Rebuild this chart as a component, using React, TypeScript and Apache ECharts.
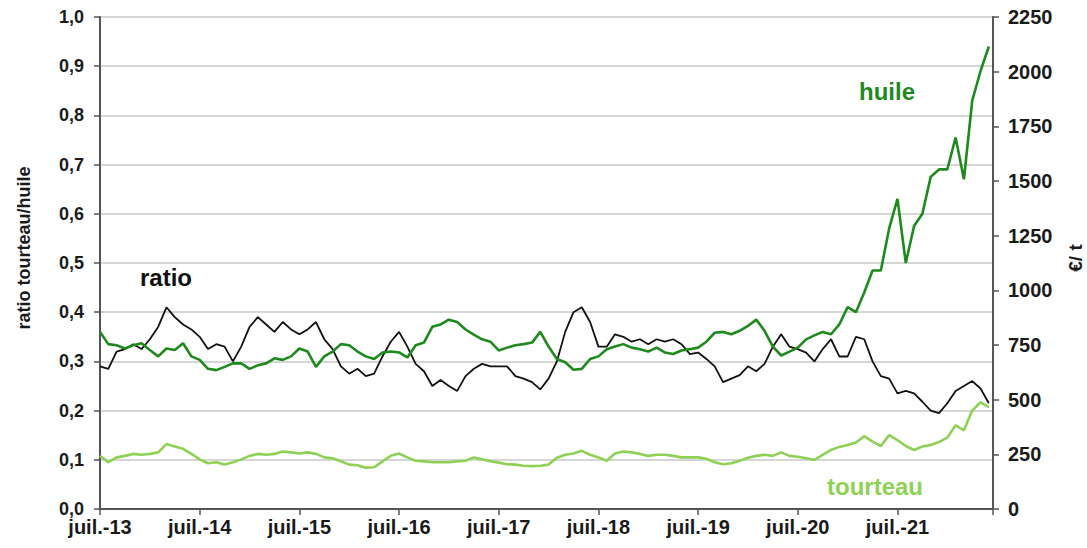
import React, { useEffect, useRef } from "react";
import * as echarts from "echarts";

// Months since July 2013 (monthly observations)
const startYear = 13;
const yearTicks = ["juil.-13", "juil.-14", "juil.-15", "juil.-16", "juil.-17", "juil.-18", "juil.-19", "juil.-20", "juil.-21"];

// ratio tourteau/huile (left axis)
const ratio = [
  0.29, 0.285, 0.32, 0.325, 0.335, 0.325, 0.345, 0.37, 0.41, 0.39, 0.375, 0.365,
  0.35, 0.325, 0.335, 0.33, 0.30, 0.33, 0.37, 0.39, 0.375, 0.36, 0.38, 0.365,
  0.355, 0.365, 0.38, 0.345, 0.325, 0.29, 0.275, 0.285, 0.27, 0.275, 0.31, 0.34,
  0.36, 0.33, 0.295, 0.28, 0.25, 0.262, 0.25, 0.24, 0.27, 0.285, 0.295, 0.29,
  0.29, 0.29, 0.27, 0.265, 0.258, 0.243, 0.265, 0.30, 0.36, 0.40, 0.41, 0.38,
  0.33, 0.33, 0.355, 0.35, 0.34, 0.345, 0.335, 0.345, 0.34, 0.345, 0.335, 0.315,
  0.318, 0.305, 0.29, 0.258, 0.265, 0.272, 0.29, 0.28, 0.295, 0.33, 0.355, 0.33,
  0.325, 0.318, 0.30, 0.325, 0.345, 0.31, 0.31, 0.35, 0.345, 0.30, 0.27, 0.265,
  0.235, 0.24, 0.235, 0.218, 0.2, 0.195, 0.215, 0.24, 0.25, 0.26, 0.245, 0.215,
];

// huile, €/t (right axis)
const huile = [
  810, 754, 749, 734, 749, 758, 727, 698, 734, 727, 758, 698,
  682, 641, 635, 650, 666, 666, 641, 657, 666, 689, 682, 698,
  734, 720, 650, 698, 720, 754, 749, 720, 698, 686, 716, 720,
  716, 693, 749, 761, 833, 844, 866, 855, 821, 797, 776, 765,
  725, 738, 749, 754, 761, 810, 743, 686, 671, 637, 641, 686,
  698, 731, 743, 754, 738, 731, 720, 738, 716, 709, 725, 731,
  738, 765, 806, 810, 799, 815, 837, 866, 815, 743, 702, 720,
  738, 776, 794, 810, 799, 844, 923, 900, 990, 1091, 1091, 1283,
  1418, 1125, 1294, 1350, 1519, 1553, 1553, 1699, 1508, 1868, 2003, 2115,
];

// tourteau, €/t (right axis)
const tourteau = [
  243, 214, 236, 243, 252, 248, 252, 259, 297, 286, 275, 252,
  227, 209, 214, 203, 214, 227, 243, 252, 248, 252, 263, 259,
  254, 259, 252, 236, 232, 218, 203, 200, 189, 191, 218, 243,
  254, 236, 221, 218, 214, 214, 214, 218, 221, 236, 227, 218,
  212, 205, 203, 198, 196, 198, 203, 234, 248, 254, 266, 248,
  236, 221, 254, 263, 259, 252, 243, 248, 248, 243, 236, 236,
  236, 230, 214, 205, 209, 221, 234, 243, 248, 243, 259, 243,
  239, 232, 225, 248, 270, 284, 293, 304, 333, 308, 288, 338,
  315, 288, 270, 286, 293, 306, 326, 383, 360, 450, 488, 466,
];

const FONT = "'Liberation Sans', Arial, sans-serif";

export default function App() {
  const ref = useRef<HTMLDivElement>(null);

  useEffect(() => {
    if (!ref.current) return;
    const chart = echarts.init(ref.current, undefined, { renderer: "svg" });
    const pairs = (arr: number[]) => arr.map((v, i) => [i, v]);

    chart.setOption({
      animation: false,
      backgroundColor: "#ffffff",
      textStyle: { fontFamily: FONT },
      grid: { left: 100, right: 94, top: 17, bottom: 39, containLabel: false },
      xAxis: {
        type: "value",
        min: 0,
        max: 107.5,
        interval: 12,
        axisLine: { show: true, lineStyle: { color: "#555", width: 2 } },
        axisTick: { show: true, length: 6, lineStyle: { color: "#555", width: 1.5 } },
        splitLine: { show: false },
        axisLabel: {
          margin: 8,
          color: "#1a1a1a",
          fontWeight: "bold",
          fontSize: 20,
          fontFamily: FONT,
          formatter: (v: number) => {
            if (v % 12 !== 0) return "";
            const k = v / 12;
            return yearTicks[k] ?? "juil.-" + (startYear + k);
          },
        },
      },
      yAxis: [
        {
          type: "value",
          min: 0,
          max: 1,
          interval: 0.1,
          position: "left",
          axisLine: { show: true, lineStyle: { color: "#555", width: 2 } },
          axisTick: { show: true, length: 6, lineStyle: { color: "#555", width: 1.5 } },
          splitLine: { show: true, lineStyle: { color: "#c8c8c8", width: 1.5 } },
          axisLabel: {
            margin: 16,
            color: "#1a1a1a",
            fontWeight: "bold",
            fontSize: 18,
            fontFamily: FONT,
            formatter: (v: number) => v.toFixed(1).replace(".", ","),
          },
        },
        {
          type: "value",
          min: 0,
          max: 2250,
          interval: 250,
          position: "right",
          axisLine: { show: true, lineStyle: { color: "#555", width: 2 } },
          axisTick: { show: true, length: 6, lineStyle: { color: "#555", width: 1.5 } },
          splitLine: { show: false },
          axisLabel: {
            margin: 15,
            color: "#1a1a1a",
            fontWeight: "bold",
            fontSize: 20,
            fontFamily: FONT,
            formatter: (v: number) => String(Math.round(v)),
          },
        },
      ],
      series: [
        {
          name: "ratio",
          type: "line",
          yAxisIndex: 0,
          data: pairs(ratio),
          showSymbol: false,
          symbol: "none",
          lineStyle: { color: "#111111", width: 1.8 },
          z: 2,
        },
        {
          name: "huile",
          type: "line",
          yAxisIndex: 1,
          data: pairs(huile),
          showSymbol: false,
          symbol: "none",
          lineStyle: { color: "#1e8a1e", width: 2.6 },
          z: 3,
        },
        {
          name: "tourteau",
          type: "line",
          yAxisIndex: 1,
          data: pairs(tourteau),
          showSymbol: false,
          symbol: "none",
          lineStyle: { color: "#8fd155", width: 2.6 },
          z: 3,
        },
      ],
      graphic: [
        {
          type: "text",
          x: 24,
          y: 248,
          rotation: Math.PI / 2,
          style: {
            text: "ratio tourteau/huile",
            fill: "#1a1a1a",
            font: "bold 18px " + FONT,
            align: "center",
            verticalAlign: "middle",
          },
        },
        {
          type: "text",
          x: 1075,
          y: 258,
          rotation: Math.PI / 2,
          style: {
            text: "€/ t",
            fill: "#1a1a1a",
            font: "bold 19px " + FONT,
            align: "center",
            verticalAlign: "middle",
          },
        },
        {
          type: "text",
          x: 166,
          y: 277,
          style: {
            text: "ratio",
            fill: "#111111",
            font: "bold 24px " + FONT,
            align: "center",
            verticalAlign: "middle",
          },
        },
        {
          type: "text",
          x: 887,
          y: 91,
          style: {
            text: "huile",
            fill: "#1e8a1e",
            font: "bold 24px " + FONT,
            align: "center",
            verticalAlign: "middle",
          },
        },
        {
          type: "text",
          x: 875,
          y: 486,
          style: {
            text: "tourteau",
            fill: "#8fd155",
            font: "bold 24px " + FONT,
            align: "center",
            verticalAlign: "middle",
          },
        },
      ],
    });

    return () => chart.dispose();
  }, []);

  return (
    <div
      ref={ref}
      style={{ position: "fixed", left: 0, top: 0, width: 1087, height: 548, background: "#fff" }}
    />
  );
}
